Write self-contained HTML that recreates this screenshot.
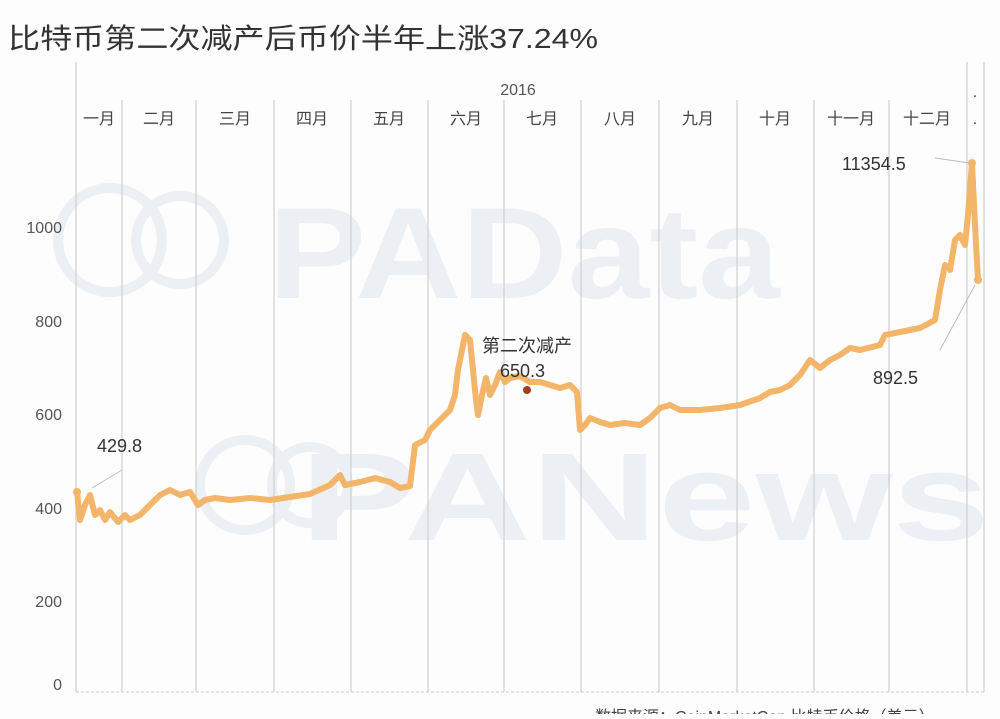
<!DOCTYPE html>
<html><head><meta charset="utf-8"><style>
body{margin:0;background:#fdfdfd;width:1000px;height:714px;overflow:hidden;font-family:"Liberation Sans","Noto Sans CJK SC",sans-serif}
</style></head><body>
<svg width="1000" height="714" xmlns="http://www.w3.org/2000/svg" font-family="Liberation Sans, Noto Sans CJK SC, sans-serif">
<rect width="1000" height="714" fill="#fdfdfd"/>
<text x="8" y="48" font-size="28" fill="#333" textLength="590" lengthAdjust="spacingAndGlyphs">比特币第二次减产后币价半年上涨37.24%</text>
<!-- watermarks -->
<g fill="none" stroke="#eceff4" stroke-width="10">
<circle cx="110" cy="240" r="52"/><circle cx="180" cy="240" r="44"/>
<circle cx="245" cy="485" r="45"/><circle cx="310" cy="485" r="38"/>
</g>
<text x="268" y="298" font-size="130" font-weight="bold" fill="#eceff4" textLength="512" lengthAdjust="spacingAndGlyphs">PAData</text>
<text x="300" y="540" font-size="125" font-weight="bold" fill="#eceff4" textLength="690" lengthAdjust="spacingAndGlyphs">PANews</text>
<!-- grid lines -->
<g stroke="#cfcfcf" stroke-width="1.2">
<line x1="76" y1="62" x2="76" y2="692"/>
<line x1="122" y1="100" x2="122" y2="692"/>
<line x1="196" y1="100" x2="196" y2="692"/>
<line x1="274" y1="100" x2="274" y2="692"/>
<line x1="351" y1="100" x2="351" y2="692"/>
<line x1="428" y1="100" x2="428" y2="692"/>
<line x1="504" y1="100" x2="504" y2="692"/>
<line x1="581" y1="100" x2="581" y2="692"/>
<line x1="659" y1="100" x2="659" y2="692"/>
<line x1="737" y1="100" x2="737" y2="692"/>
<line x1="814" y1="100" x2="814" y2="692"/>
<line x1="889" y1="100" x2="889" y2="692"/>
<line x1="967" y1="62" x2="967" y2="692"/>
<line x1="984" y1="62" x2="984" y2="692"/>
</g>
<line x1="76" y1="692" x2="984" y2="692" stroke="#ccc" stroke-dasharray="3,2"/>
<text x="518" y="95" font-size="16" fill="#555" text-anchor="middle">2016</text>
<g font-size="16" fill="#444" text-anchor="middle">
<text x="99" y="124">一月</text><text x="159" y="124">二月</text><text x="235" y="124">三月</text>
<text x="312" y="124">四月</text><text x="389" y="124">五月</text><text x="466" y="124">六月</text>
<text x="542" y="124">七月</text><text x="620" y="124">八月</text><text x="698" y="124">九月</text>
<text x="775" y="124">十月</text><text x="851" y="124">十一月</text><text x="927" y="124">十二月</text>
<text x="975" y="97">.</text><text x="975" y="124">.</text>
</g>
<g font-size="16" fill="#555" text-anchor="end">
<text x="62" y="233">1000</text><text x="62" y="327">800</text><text x="62" y="420">600</text>
<text x="62" y="514">400</text><text x="62" y="607">200</text><text x="62" y="690">0</text>
</g>
<polyline fill="none" stroke="#f2b56a" stroke-width="6" stroke-linejoin="round" points="77,492 80,520 85,505 90,495 95,515 100,510 105,520 110,512 118,522 125,515 130,520 140,515 150,505 160,495 170,490 180,495 190,492 198,505 205,500 215,498 230,500 250,498 270,500 290,497 310,494 330,485 340,475 345,485 360,482 375,478 390,482 400,488 410,486 415,445 425,440 430,430 440,420 450,410 455,395 458,370 462,350 465,335 470,340 473,370 476,400 478,415 482,395 486,378 490,395 495,385 500,372 505,382 510,378 520,376 530,382 540,382 550,385 560,388 570,385 577,392 580,430 585,425 590,418 600,422 610,425 625,423 640,425 650,418 660,408 670,405 680,410 700,410 720,408 740,405 760,398 770,392 780,390 790,385 800,375 810,360 820,368 830,360 840,355 850,348 860,350 880,345 885,335 900,332 920,328 935,320 940,290 945,265 950,270 955,240 960,235 965,245 968,215 972,163 975,225 978,280"/>
<circle cx="77" cy="492" r="4" fill="#f2b56a"/>
<circle cx="972" cy="163" r="4" fill="#f2b56a"/>
<circle cx="978" cy="280" r="4" fill="#f2b56a"/>
<circle cx="527" cy="390" r="4" fill="#a0401e"/>
<g stroke="#bbb" stroke-width="1"><line x1="92" y1="488" x2="122" y2="470"/><line x1="935" y1="158" x2="970" y2="163"/><line x1="940" y1="350" x2="975" y2="285"/></g>
<g font-size="18" fill="#333">
<text x="97" y="452">429.8</text>
<text x="842" y="170">11354.5</text>
<text x="873" y="384">892.5</text>
<text x="482" y="352">第二次减产</text>
<text x="500" y="377">650.3</text>
</g>
<text x="595" y="722" font-size="16" fill="#444">数据来源：CoinMarketCap 比特币价格（美元）</text>
</svg>
</body></html>
